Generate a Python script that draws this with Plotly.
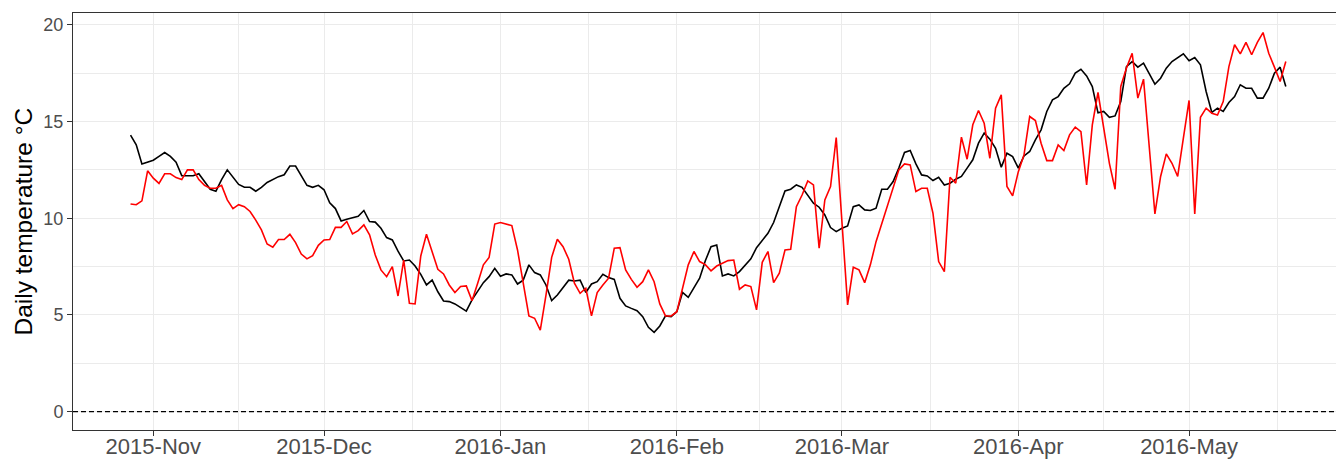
import pandas as pd
import plotly.graph_objects as go

start_date = "2015-10-28"

black_vals = [
    14.3, 13.8, 12.8, 12.9, 13.0, 13.2, 13.4, 13.2, 12.9, 12.2,
    12.2, 12.2, 12.3, 11.9, 11.5, 11.4, 12.0, 12.5, 12.15, 11.75,
    11.6, 11.6, 11.4, 11.6, 11.85, 12.0, 12.15, 12.25, 12.7, 12.7,
    12.2, 11.7, 11.6, 11.7, 11.47, 10.8, 10.5, 9.86, 9.95, 10.03,
    10.1, 10.4, 9.83, 9.8, 9.48, 9.0, 8.88, 8.3, 7.79, 7.84,
    7.53, 7.1, 6.55, 6.8, 6.2, 5.72, 5.69, 5.57, 5.4, 5.2,
    5.78, 6.24, 6.67, 6.98, 7.41, 7.0, 7.12, 7.07, 6.6, 6.8,
    7.59, 7.19, 7.07, 6.55, 5.74, 6.03, 6.43, 6.8, 6.76, 6.8,
    6.16, 6.6, 6.72, 7.1, 6.93, 6.84, 5.86, 5.47, 5.34, 5.22,
    4.91, 4.36, 4.1, 4.43, 4.95, 4.91, 5.17, 6.17, 5.91, 6.43,
    6.9, 7.8, 8.53, 8.62, 7.02, 7.12, 7.02, 7.24, 7.59, 7.9,
    8.48, 8.83, 9.22, 9.78, 10.6, 11.41, 11.5, 11.72, 11.6, 11.2,
    10.78, 10.57, 10.17, 9.52, 9.31, 9.48, 9.6, 10.6, 10.69, 10.43,
    10.4, 10.52, 11.5, 11.5, 11.9, 12.6, 13.4, 13.5, 12.81, 12.24,
    12.19, 11.95, 12.12, 11.72, 11.81, 12.02, 12.16, 12.59, 13.02, 13.88,
    14.4, 14.09, 13.62, 12.64, 13.36, 13.19, 12.59, 13.22, 13.45, 14.05,
    14.57, 15.52, 16.12, 16.29, 16.72, 16.95, 17.5, 17.7, 17.36, 16.81,
    15.45, 15.52, 15.22, 15.29, 16.03, 17.84, 18.1, 17.81, 18.02, 17.47,
    16.93, 17.24, 17.76, 18.1, 18.28, 18.5, 18.14, 18.31, 17.93, 16.55,
    15.47, 15.69, 15.52, 15.98, 16.29, 16.9, 16.72, 16.72, 16.21, 16.21,
    16.72, 17.5, 17.81, 16.81,
]

red_vals = [
    10.74, 10.7, 10.9, 12.45, 12.07, 11.8, 12.3, 12.3, 12.1, 12.0,
    12.5, 12.5, 12.0, 11.7, 11.55, 11.55, 11.7, 10.95, 10.5, 10.7,
    10.6, 10.35, 9.9, 9.4, 8.67, 8.5, 8.9, 8.9, 9.17, 8.74,
    8.15, 7.9, 8.07, 8.6, 8.88, 8.9, 9.53, 9.53, 9.83, 9.19,
    9.36, 9.66, 9.14, 8.1, 7.33, 6.98, 7.5, 5.98, 7.84, 5.6,
    5.57, 8.05, 9.17, 8.28, 7.36, 7.12, 6.55, 6.16, 6.47, 6.5,
    5.74, 6.64, 7.59, 7.97, 9.7, 9.78, 9.7, 9.62, 8.36, 6.72,
    4.95, 4.83, 4.22, 6.03, 7.98, 8.91, 8.53, 7.88, 6.64, 6.12,
    6.38, 4.95, 6.16, 6.55, 6.9, 8.45, 8.48, 7.33, 6.84, 6.43,
    6.72, 7.33, 6.72, 5.57, 4.95, 4.95, 5.17, 6.38, 7.59, 8.28,
    7.76, 7.6, 7.28, 7.53, 7.67, 7.81, 7.84, 6.33, 6.55, 6.47,
    5.26, 7.72, 8.28, 6.67, 7.16, 8.36, 8.4, 10.6, 11.2, 11.93,
    11.72, 8.45, 10.95, 11.64, 14.17, 9.9, 5.52, 7.47, 7.33, 6.67,
    7.59, 8.79, 9.71, 10.6, 11.47, 12.5, 12.81, 12.76, 11.38, 11.55,
    11.55, 10.26, 7.76, 7.24, 12.12, 11.81, 14.19, 13.05, 14.83, 15.57,
    14.91, 13.1, 15.69, 16.38, 11.64, 11.16, 12.41, 13.28, 15.26, 15.05,
    13.88, 12.98, 12.98, 13.79, 13.5, 14.31, 14.71, 14.48, 11.72, 14.83,
    16.5, 14.57, 12.84, 11.5, 16.81, 17.76, 18.53, 16.21, 17.19, 13.71,
    10.22, 12.16, 13.33, 12.84, 12.16, 14.14, 16.09, 10.22, 15.22, 15.69,
    15.43, 15.34, 16.03, 17.84, 18.97, 18.5, 19.09, 18.45, 19.09, 19.6,
    18.53, 17.81, 17.07, 18.1,
]

month_ticks = ["2015-11-01", "2015-12-01", "2016-01-01", "2016-02-01",
               "2016-03-01", "2016-04-01", "2016-05-01"]
month_labels = ["2015-Nov", "2015-Dec", "2016-Jan", "2016-Feb",
                "2016-Mar", "2016-Apr", "2016-May"]
y_ticks = [0, 5, 10, 15, 20]
y_minor = [2.5, 7.5, 12.5, 17.5]

dates = pd.date_range(start=start_date, periods=len(black_vals), freq="D")

# minor x gridlines midway between month breaks (ggplot style)
mt = [pd.Timestamp(t) for t in month_ticks] + [pd.Timestamp("2016-06-01")]
x_minor = [mt[i] + (mt[i + 1] - mt[i]) / 2 for i in range(len(mt) - 1)]

ref = pd.Timestamp("2015-11-01")
x_range = [ref + pd.Timedelta(days=-14.11), ref + pd.Timedelta(days=207.82)]

FONT = "Liberation Sans, Arial, Helvetica, sans-serif"

fig = go.Figure()
fig.add_trace(go.Scatter(x=dates, y=black_vals, mode="lines",
                         line=dict(color="#000000", width=1.6),
                         showlegend=False, hoverinfo="x+y"))
fig.add_trace(go.Scatter(x=dates, y=red_vals, mode="lines",
                         line=dict(color="#FF0000", width=1.6),
                         showlegend=False, hoverinfo="x+y"))

fig.add_hline(y=0, line=dict(color="#000000", width=1.3, dash="5px,3px"),
              layer="above")

fig.update_layout(
    width=1336, height=459,
    margin=dict(l=73, r=0, t=13, b=29),
    paper_bgcolor="white", plot_bgcolor="white",
    font=dict(family=FONT),
    xaxis=dict(
        type="date", range=x_range, automargin=False,
        tickvals=month_ticks, ticktext=month_labels,
        tickfont=dict(size=22, color="#4D4D4D", family=FONT),
        ticklabelstandoff=-8,
        showgrid=True, gridcolor="#EBEBEB", gridwidth=1.1,
        minor=dict(tickvals=x_minor, showgrid=True, gridcolor="#EBEBEB",
                   gridwidth=0.6, ticks=""),
        ticks="outside", ticklen=5, tickwidth=1, tickcolor="#333333",
        showline=True, linecolor="#333333", linewidth=1, mirror=True,
        zeroline=False,
    ),
    yaxis=dict(
        range=[-0.947, 20.61], automargin=False,
        tickvals=y_ticks,
        tickfont=dict(size=18, color="#4D4D4D", family=FONT),
        showgrid=True, gridcolor="#EBEBEB", gridwidth=1.1,
        minor=dict(tickvals=y_minor, showgrid=True, gridcolor="#EBEBEB",
                   gridwidth=0.6, ticks=""),
        ticks="outside", ticklen=5, tickwidth=1, tickcolor="#333333",
        showline=True, linecolor="#333333", linewidth=1, mirror=False,
        zeroline=False,
    ),
    annotations=[dict(
        text="Daily temperature °C", xref="paper", yref="paper",
        x=0, y=0.5, xanchor="center", yanchor="middle", xshift=-50,
        textangle=-90, showarrow=False,
        font=dict(size=24.5, color="#000000", family=FONT),
    )],
)

fig.write_html("out.html", config={"displayModeBar": False},
               post_script="document.body.style.margin='0px';"
                           "document.body.style.overflow='hidden';")
